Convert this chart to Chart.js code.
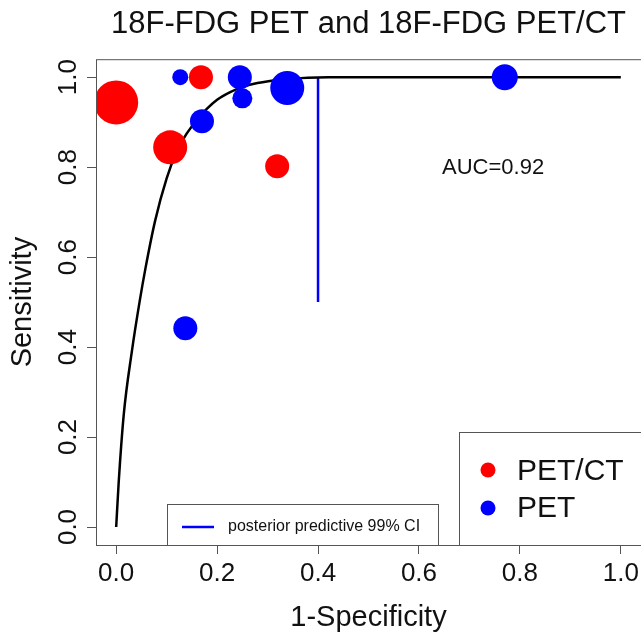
<!DOCTYPE html>
<html>
<head>
<meta charset="utf-8">
<script src="https://cdn.jsdelivr.net/npm/chart.js@4.4.1/dist/chart.umd.min.js"></script>
<style>
  body { margin: 0; background: #fff; }
  #wrap { width: 641px; height: 632px; }
</style>
</head>
<body>
<div id="wrap"><canvas id="chart-sroc" width="641" height="632"></canvas></div>
<script>
// x = 1-specificity, y = sensitivity, size = bubble radius (study weight)
const petctX = [0.0, 0.168, 0.107, 0.319];
const petctY = [0.944, 1.0, 0.844, 0.802];
const petctSize = [22, 12, 17, 12];

const petX = [0.127, 0.245, 0.25, 0.339, 0.17, 0.137, 0.77];
const petY = [1.0, 1.0, 0.953, 0.976, 0.902, 0.442, 1.0];
const petSize = [8, 12, 10, 17, 12, 12, 13];

// summary ROC curve
const curveX = [0, 0.005, 0.015, 0.031, 0.047, 0.058, 0.077, 0.1, 0.12, 0.14, 0.16, 0.18, 0.2, 0.226, 0.25, 0.28, 0.33, 0.38, 0.42, 0.5, 1.0];
const curveY = [0, 0.1, 0.25, 0.39, 0.505, 0.575, 0.68, 0.775, 0.835, 0.875, 0.905, 0.93, 0.95, 0.967, 0.978, 0.987, 0.995, 0.999, 1.0, 1.0, 1.0];

// posterior predictive 99% CI
const ciX = [0.4, 0.4];
const ciY = [0.5, 1.0];

const xTicks = [0, 0.2, 0.4, 0.6, 0.8, 1.0];
const yTicks = [0, 0.2, 0.4, 0.6, 0.8, 1.0];
const aucText = 'AUC=0.92';

const FONT = '"Liberation Sans", Arial, Helvetica, sans-serif';
const toPts = (xs, ys, rs) => xs.map((x, i) => rs ? { x, y: ys[i], r: rs[i] } : { x, y: ys[i] });

// R-like extras: box, rotated y labels, AUC text and the two legends
const rStyle = {
  id: 'rStyle',
  afterDraw(chart) {
    const ctx = chart.ctx;
    const a = chart.chartArea;
    const ys = chart.scales.y;
    ctx.save();
    ctx.strokeStyle = '#555';
    ctx.lineWidth = 1;
    ctx.strokeRect(a.left + 0.5, a.top + 0.5, a.right - a.left, a.bottom - a.top);

    ctx.fillStyle = '#111';
    ctx.font = '26px ' + FONT;
    ctx.textAlign = 'center';
    ctx.textBaseline = 'middle';
    ys.ticks.forEach(t => {
      ctx.save();
      ctx.translate(a.left - 27, ys.getPixelForValue(t.value));
      ctx.rotate(-Math.PI / 2);
      ctx.fillText(t.value.toFixed(1), 0, 0);
      ctx.restore();
    });

    ctx.font = '22px ' + FONT;
    ctx.textAlign = 'left';
    ctx.fillText(aucText, 442, 168);

    // legend: PET/CT, PET
    ctx.fillStyle = '#fff';
    ctx.fillRect(459.5, 432.5, 190, 113);
    ctx.strokeRect(459.5, 432.5, 190, 113);
    ctx.fillStyle = '#ff0000';
    ctx.beginPath(); ctx.arc(488, 470, 7.5, 0, Math.PI * 2); ctx.fill();
    ctx.fillStyle = '#0000ff';
    ctx.beginPath(); ctx.arc(488, 508, 7.5, 0, Math.PI * 2); ctx.fill();
    ctx.fillStyle = '#111';
    ctx.font = '30px ' + FONT;
    ctx.fillText('PET/CT', 517, 472);
    ctx.fillText('PET', 517, 509);

    // legend: CI line
    ctx.fillStyle = '#fff';
    ctx.fillRect(167.5, 504.5, 271, 41);
    ctx.strokeRect(167.5, 504.5, 271, 41);
    ctx.strokeStyle = '#0000ff';
    ctx.lineWidth = 2.5;
    ctx.beginPath(); ctx.moveTo(182, 527); ctx.lineTo(214, 527); ctx.stroke();
    ctx.fillStyle = '#111';
    ctx.font = '16px ' + FONT;
    ctx.fillText('posterior predictive 99% CI', 228, 527);
    ctx.restore();
  }
};

const ctx = document.getElementById('chart-sroc').getContext('2d');
new Chart(ctx, {
  type: 'bubble',
  data: {
    datasets: [
      {
        type: 'line',
        label: 'SROC',
        data: toPts(curveX, curveY),
        borderColor: '#000',
        borderWidth: 2.5,
        pointRadius: 0,
        cubicInterpolationMode: 'monotone',
        fill: false,
        order: 1
      },
      {
        type: 'line',
        label: 'posterior predictive 99% CI',
        data: toPts(ciX, ciY),
        borderColor: '#0000ff',
        borderWidth: 2.5,
        pointRadius: 0,
        fill: false,
        order: 1
      },
      {
        label: 'PET/CT',
        data: toPts(petctX, petctY, petctSize),
        backgroundColor: '#ff0000',
        borderWidth: 0,
        order: 0
      },
      {
        label: 'PET',
        data: toPts(petX, petY, petSize),
        backgroundColor: '#0000ff',
        borderWidth: 0,
        order: 0
      }
    ]
  },
  options: {
    responsive: false,
    animation: false,
    events: [],
    layout: { padding: 0, autoPadding: false },
    plugins: {
      legend: { display: false },
      tooltip: { enabled: false },
      title: {
        display: true,
        fullSize: false,
        text: '18F-FDG PET and 18F-FDG PET/CT',
        color: '#111',
        font: { family: FONT, size: 31, weight: 'normal' },
        padding: { top: 6, bottom: 16 }
      }
    },
    scales: {
      x: {
        type: 'linear',
        min: -0.04,
        max: 1.04,
        afterBuildTicks: s => { s.ticks = xTicks.map(v => ({ value: v })); },
        afterFit: s => { s.height = 87; s.paddingLeft = 0; s.paddingRight = 0; },
        grid: { drawOnChartArea: false, drawTicks: true, tickLength: 9, tickColor: '#555' },
        border: { display: false },
        ticks: {
          color: '#111',
          font: { family: FONT, size: 26 },
          padding: 4,
          maxRotation: 0,
          autoSkip: false,
          callback: v => v.toFixed(1)
        },
        title: {
          display: true,
          text: '1-Specificity',
          color: '#111',
          font: { family: FONT, size: 29 },
          padding: { top: 0, bottom: -3 }
        }
      },
      y: {
        type: 'linear',
        min: -0.04,
        max: 1.04,
        afterBuildTicks: s => { s.ticks = yTicks.map(v => ({ value: v })); },
        afterFit: s => { s.width = 96; s.paddingTop = 0; s.paddingBottom = 0; },
        grid: { drawOnChartArea: false, drawTicks: true, tickLength: 9, tickColor: '#555' },
        border: { display: false },
        ticks: { display: false },
        title: {
          display: true,
          text: 'Sensitivity',
          color: '#111',
          font: { family: FONT, size: 29 },
          padding: { top: 6, bottom: 0 }
        }
      }
    }
  },
  plugins: [rStyle]
});
</script>
</body>
</html>
